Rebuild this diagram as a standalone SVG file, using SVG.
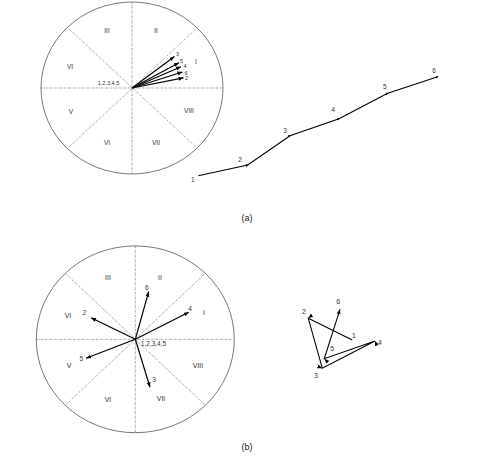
<svg xmlns="http://www.w3.org/2000/svg" width="480" height="468" viewBox="0 0 480 468">
<defs>
<marker id="ah" markerUnits="userSpaceOnUse" markerWidth="6" markerHeight="6" refX="5" refY="2" orient="auto">
<path d="M0,0 L5,2 L0,4 Z" fill="#000"/>
</marker>
<marker id="dot" markerUnits="userSpaceOnUse" markerWidth="4" markerHeight="4" refX="2" refY="2" orient="auto">
<path d="M0,0.6 L3,2 L0,3.4 Z" fill="#000"/>
</marker>
<style>
.circ{fill:none;stroke:#555;stroke-width:0.8}
.dl{stroke:#777;stroke-width:0.7;stroke-dasharray:2 1 0.6 1;fill:none}
.ar{stroke:#000;stroke-width:1.2;fill:none;marker-end:url(#ah)}
.pl{stroke:#000;stroke-width:1.1;fill:none}
.t{font-family:"Liberation Sans",Arial,sans-serif;fill:#333;text-anchor:middle;opacity:0.999}
.s5{font-size:5.5px}
.s6{font-size:6.5px}
.s7{font-size:7px}
.cap{font-family:"Liberation Sans",Arial,sans-serif;font-size:9px;fill:#222;text-anchor:middle;opacity:0.999}
</style>
</defs>

<g id="circleA">
<ellipse class="circ" cx="132" cy="88" rx="91" ry="86"/>
<g class="dl">
<line x1="41" y1="88" x2="223" y2="88"/>
<line x1="132" y1="2" x2="132" y2="174"/>
<line x1="69" y1="29" x2="196" y2="147"/>
<line x1="69" y1="147" x2="196" y2="29"/>
</g>
<g class="t s6">
<text x="107" y="33">III</text>
<text x="156" y="33">II</text>
<text x="196" y="64">I</text>
<text x="70" y="69">VI</text>
<text x="71" y="114">V</text>
<text x="107" y="145">VI</text>
<text x="156" y="145">VII</text>
<text x="189" y="113">VIII</text>
</g>
<text class="t s5" x="108.5" y="85">1,2,3,4,5</text>
</g>

<g id="arrowsA">
<line class="ar" x1="132" y1="88" x2="174.5" y2="56.5"/>
<line class="ar" x1="132" y1="88" x2="179" y2="62.7"/>
<line class="ar" x1="132" y1="88" x2="181" y2="66.7"/>
<line class="ar" x1="132" y1="88" x2="182.5" y2="72"/>
<line class="ar" x1="132" y1="88" x2="183.5" y2="77.8"/>
<g class="t s5">
<text x="177.5" y="55.5">3</text>
<text x="181.5" y="63">5</text>
<text x="185" y="68">4</text>
<text x="186" y="74.5">6</text>
<text x="186.5" y="80">2</text>
</g>
</g>

<g id="pathA">
<polyline class="pl" points="198.3,175.7 247.7,165 290,135.7 339,118.7 387.7,93.3 437.7,76.7" marker-mid="url(#dot)" marker-end="url(#dot)"/>
<g class="t s6">
<text x="192.7" y="181.5">1</text>
<text x="240" y="161.5">2</text>
<text x="285" y="132.5">3</text>
<text x="333" y="111.5">4</text>
<text x="384.7" y="89">5</text>
<text x="434" y="73">6</text>
</g>
</g>

<text id="capA" class="cap" x="247" y="220.5">(a)</text>

<g id="circleB">
<ellipse class="circ" cx="135.3" cy="339.3" rx="99" ry="93.4"/>
<g class="dl">
<line x1="36.3" y1="339.3" x2="234.3" y2="339.3"/>
<line x1="135.3" y1="246" x2="135.3" y2="432.7"/>
<line x1="65.3" y1="273.3" x2="205.3" y2="405.3"/>
<line x1="65.3" y1="405.3" x2="205.3" y2="273.3"/>
</g>
<g class="t s7">
<text x="108" y="279.5">III</text>
<text x="160" y="279.5">II</text>
<text x="204" y="314.5">I</text>
<text x="68" y="317.5">VI</text>
<text x="69" y="367.5">V</text>
<text x="108" y="401.5">VI</text>
<text x="161" y="400.5">VII</text>
<text x="198" y="367.5">VIII</text>
</g>
<text class="t s6" x="153.5" y="346.3">1,2,3,4,5</text>
</g>

<g id="arrowsB">
<line class="ar" x1="135.3" y1="339.3" x2="148.7" y2="291.7"/>
<line class="ar" x1="135.3" y1="339.3" x2="188.7" y2="312.3"/>
<line class="ar" x1="135.3" y1="339.3" x2="91" y2="317.7"/>
<line class="ar" x1="135.3" y1="339.3" x2="86" y2="358.3"/>
<line class="ar" x1="135.3" y1="339.3" x2="150" y2="387.3"/>
<g class="t s6">
<text x="146.7" y="290">6</text>
<text x="190" y="311.3">4</text>
<text x="84.3" y="315">2</text>
<text x="81.3" y="361.3">5</text>
<text x="154" y="382.3">3</text>
</g>
</g>

<g id="pathB">
<polyline class="pl" points="352.3,340 308.3,318.3 322.3,368.3 375,341 324.3,358.7 340,309.3" marker-mid="url(#ah)" marker-end="url(#ah)"/>
<g class="t s7">
<text x="354" y="337.5">1</text>
<text x="304" y="314.2">2</text>
<text x="316" y="377.5">3</text>
<text x="380" y="345.2">4</text>
<text x="332.3" y="350.8">5</text>
<text x="338.3" y="304.2">6</text>
</g>
</g>

<text id="capB" class="cap" x="247" y="449.5">(b)</text>
</svg>
